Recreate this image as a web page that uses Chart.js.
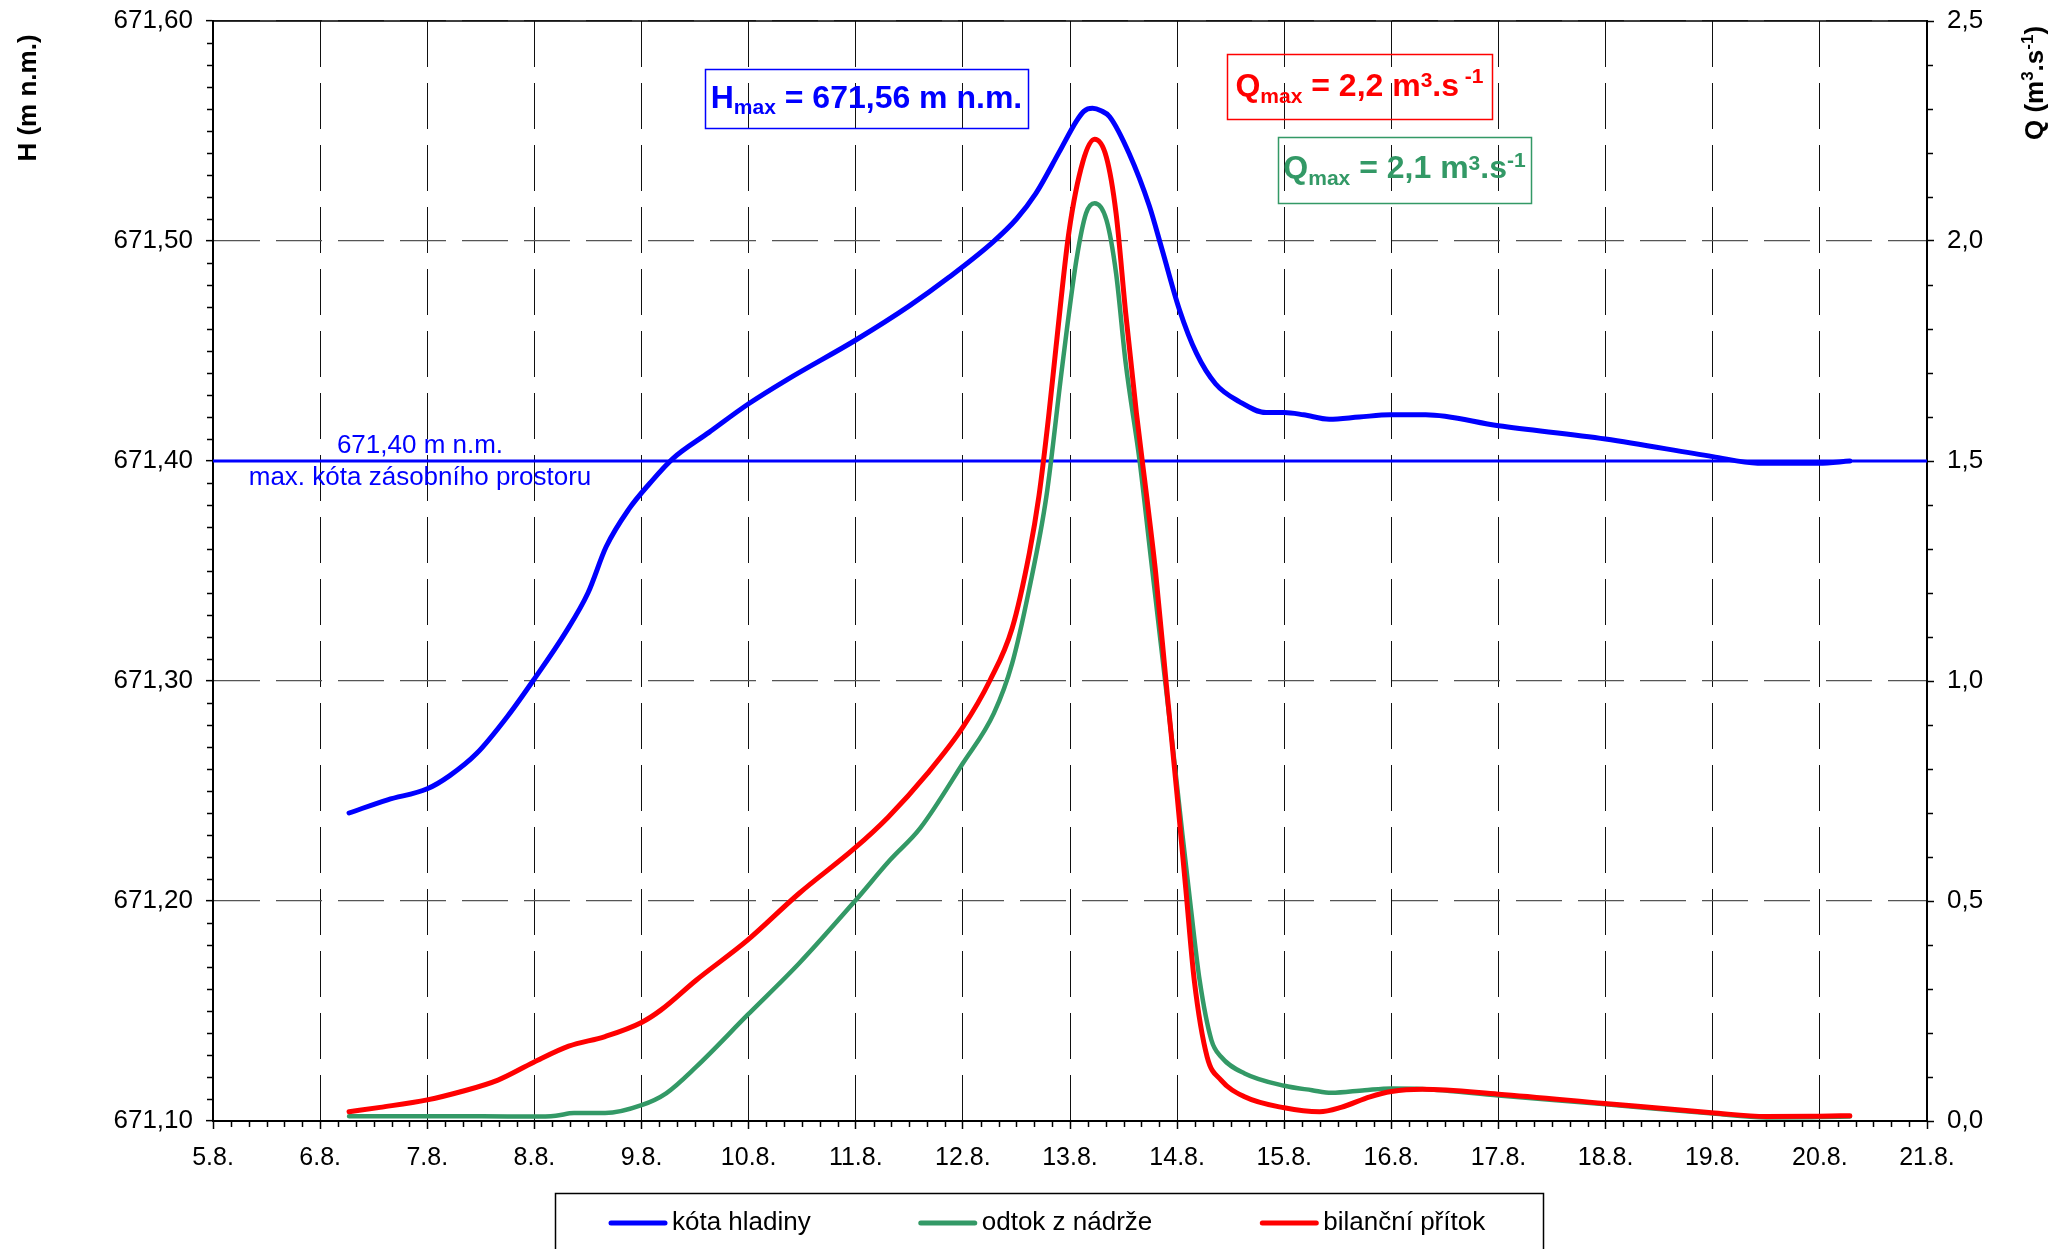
<!DOCTYPE html>
<html>
<head>
<meta charset="utf-8">
<title>Kóta hladiny a průtoky</title>
<script src="https://cdn.jsdelivr.net/npm/chart.js@4.4.0/dist/chart.umd.min.js"></script>
<style>
html, body { margin: 0; padding: 0; background: #fff; overflow: hidden; }
canvas { display: block; }
</style>
</head>
<body>
<canvas id="graf" width="2067" height="1249"></canvas>
<script>
// čas ve dnech srpna (6.27 = 6.8. ráno)
var levelDays = [6.27, 6.63, 7.0, 7.21, 7.46, 7.75, 8.0, 8.29, 8.5, 8.67, 8.88, 9.08, 9.29, 9.63, 10.0, 10.36,
	11.0, 11.5, 11.87, 12.28, 12.5, 12.68, 12.9, 13.06, 13.13, 13.21, 13.29, 13.37, 13.55, 13.74, 13.86, 14.02,
	14.18, 14.36, 14.58, 14.83, 15.0, 15.18, 15.42, 15.7, 15.99, 16.32, 17.0, 18.0, 19.0, 19.42, 19.7, 19.99, 20.28];
var levelValues = [671.240, 671.246, 671.251, 671.257, 671.267, 671.284, 671.301, 671.322, 671.340, 671.361,
	671.378, 671.390, 671.401, 671.413, 671.426, 671.437, 671.455, 671.4705, 671.4835, 671.4995, 671.510, 671.5215,
	671.5405, 671.5545, 671.5590, 671.5603, 671.5592, 671.5565, 671.540, 671.516, 671.496, 671.469, 671.449, 671.435,
	671.427, 671.422, 671.422, 671.421, 671.419, 671.420, 671.421, 671.421, 671.416, 671.410, 671.402, 671.399,
	671.399, 671.399, 671.400];

var outflowDays = [6.27, 7.0, 7.51, 7.99, 8.2, 8.37, 8.66, 9.0, 9.23, 9.51, 9.99, 10.47, 11.0, 11.32, 11.6, 12.0,
	12.29, 12.46, 12.62, 12.78, 12.93, 13.06, 13.15, 13.23, 13.34, 13.43, 13.52, 13.65, 13.75, 13.85, 13.95, 14.05,
	14.13, 14.21, 14.32, 14.41, 14.63, 15.0, 15.26, 15.44, 15.75, 16.0, 16.29, 17.0, 18.0, 19.0, 19.5, 20.0, 20.28];
var outflowValues = [0.011, 0.011, 0.011, 0.010, 0.012, 0.018, 0.018, 0.036, 0.063, 0.123, 0.241, 0.358, 0.502,
	0.593, 0.665, 0.813, 0.927, 1.040, 1.210, 1.420, 1.720, 1.957, 2.063, 2.086, 2.048, 1.927, 1.722, 1.500, 1.290,
	1.080, 0.870, 0.650, 0.480, 0.320, 0.184, 0.146, 0.108, 0.080, 0.070, 0.064, 0.070, 0.074, 0.073, 0.058, 0.038,
	0.017, 0.008, 0.009, 0.010];

var inflowDays = [6.27, 6.56, 7.0, 7.32, 7.66, 7.99, 8.32, 8.66, 9.0, 9.18, 9.51, 9.99, 10.47, 10.99, 11.3, 11.67,
	12.0, 12.25, 12.46, 12.62, 12.71, 12.8, 12.87, 12.99, 13.12, 13.23, 13.34, 13.43, 13.52, 13.62, 13.72, 13.8,
	13.9, 14.0, 14.08, 14.16, 14.28, 14.41, 14.63, 15.0, 15.33, 15.53, 15.8, 16.0, 16.29, 17.0, 17.99, 18.99, 19.5,
	19.99, 20.28];
var inflowValues = [0.021, 0.031, 0.048, 0.067, 0.093, 0.133, 0.170, 0.192, 0.224, 0.252, 0.320, 0.411, 0.517,
	0.620, 0.690, 0.790, 0.895, 1.000, 1.120, 1.290, 1.420, 1.600, 1.760, 2.020, 2.180, 2.231, 2.190, 2.063, 1.836,
	1.609, 1.411, 1.245, 0.990, 0.740, 0.530, 0.320, 0.146, 0.093, 0.055, 0.030, 0.021, 0.031, 0.055, 0.067, 0.072,
	0.061, 0.040, 0.019, 0.010, 0.011, 0.012];

var storageLevel = 671.40;
var dayMin = 5, dayMax = 21;
var monthSuffix = '.8.';

var font = "'Liberation Sans', Arial, sans-serif";

function toPoints(xs, ys) {
	return xs.map(function (x, i) { return { x: x, y: ys[i] }; });
}

function comma(v, d) {
	return v.toFixed(d).replace('.', ',');
}

// text s indexy: [text, velikost, posun]
function richWidth(c, parts, weight) {
	var w = 0;
	parts.forEach(function (p) {
		c.font = weight + ' ' + p[1] + 'px ' + font;
		w += c.measureText(p[0]).width;
	});
	return w;
}

function drawRich(c, parts, x, y, weight) {
	parts.forEach(function (p) {
		c.font = weight + ' ' + p[1] + 'px ' + font;
		c.fillText(p[0], x, y + (p[2] || 0));
		x += c.measureText(p[0]).width;
	});
}

function boxLabel(c, parts, color, x, y, w, h, baseline) {
	c.save();
	c.strokeStyle = color;
	c.lineWidth = 1.5;
	c.strokeRect(x + 0.5, y + 0.5, w, h);
	c.fillStyle = color;
	c.textBaseline = 'alphabetic';
	var tw = richWidth(c, parts, 'bold');
	drawRich(c, parts, x + (w - tw) / 2, baseline, 'bold');
	c.restore();
}

var maxLevel = Math.max.apply(null, levelValues);
var maxInflow = Math.max.apply(null, inflowValues);
var maxOutflow = Math.max.apply(null, outflowValues);

// vedlejší dílky os, rámeček nahoře
var minorTicks = {
	id: 'minorTicks',
	afterDraw: function (chart) {
		var c = chart.ctx, a = chart.chartArea, s = chart.scales;
		var i, p;
		c.save();
		c.strokeStyle = '#000';
		c.lineWidth = 1.5;
		c.beginPath();
		for (i = 0; i <= (dayMax - dayMin) * 6; i++) {
			if (i % 6 === 0) continue;
			p = Math.round(s.x.getPixelForValue(dayMin + i / 6)) + 0.5;
			c.moveTo(p, a.bottom);
			c.lineTo(p, a.bottom + 6);
		}
		for (i = 0; i <= 50; i++) {
			if (i % 10 === 0) continue;
			p = Math.round(s.yH.getPixelForValue(671.1 + i * 0.01)) + 0.5;
			c.moveTo(a.left - 6, p);
			c.lineTo(a.left, p);
		}
		for (i = 0; i <= 25; i++) {
			if (i % 5 === 0) continue;
			p = Math.round(s.yQ.getPixelForValue(i * 0.1)) + 0.5;
			c.moveTo(a.right, p);
			c.lineTo(a.right + 6, p);
		}
		c.stroke();
		c.beginPath();
		c.moveTo(a.left, a.top);
		c.lineTo(a.right, a.top);
		c.stroke();
		c.restore();
	}
};

// popisky, názvy os a legenda
var labels = {
	id: 'labels',
	afterDraw: function (chart) {
		var c = chart.ctx, a = chart.chartArea, s = chart.scales;
		var yLine = s.yH.getPixelForValue(storageLevel);

		c.save();
		c.fillStyle = '#0000ff';
		c.font = '26px ' + font;
		c.textAlign = 'center';
		c.textBaseline = 'alphabetic';
		c.fillText(comma(storageLevel, 2) + ' m n.m.', a.left + 207, yLine - 8);
		c.fillText('max. kóta zásobního prostoru', a.left + 207, yLine + 24);
		c.restore();

		boxLabel(c, [['H', 32], ['max', 21, 6], [' = ' + comma(maxLevel, 2) + ' m n.m.', 32]],
			'#0000ff', 705, 69, 323, 59, 108);
		boxLabel(c, [['Q', 32], ['max', 21, 7], [' = ' + comma(maxInflow, 1) + ' m', 32], ['3', 21, -9], ['.s', 32], [' -1', 21, -13]],
			'#ff0000', 1227, 54, 265, 65, 96);
		boxLabel(c, [['Q', 32], ['max', 21, 7], [' = ' + comma(maxOutflow, 1) + ' m', 32], ['3', 21, -8], ['.s', 32], ['-1', 21, -11]],
			'#339966', 1278, 137, 253, 66, 178);

		// názvy os
		c.save();
		c.fillStyle = '#000';
		c.translate(27, 98);
		c.rotate(-Math.PI / 2);
		var tParts = [['H (m n.m.)', 26]];
		drawRich(c, tParts, -richWidth(c, tParts, 'bold') / 2, 9, 'bold');
		c.restore();

		c.save();
		c.fillStyle = '#000';
		c.translate(2034, 83);
		c.rotate(-Math.PI / 2);
		var qParts = [['Q (m', 26], ['3', 17, -10], ['.s', 26], ['-1', 17, -10], [')', 26]];
		drawRich(c, qParts, -richWidth(c, qParts, 'bold') / 2, 9, 'bold');
		c.restore();

		// legenda
		c.save();
		c.strokeStyle = '#000';
		c.lineWidth = 1.5;
		c.strokeRect(555.5, 1193.5, 988, 80);
		c.font = '26px ' + font;
		c.textBaseline = 'middle';
		var x = 611, y = 1223;
		chart.data.datasets.forEach(function (ds) {
			if (!ds.inLegend) return;
			c.strokeStyle = ds.borderColor;
			c.lineWidth = 5;
			c.lineCap = 'round';
			c.beginPath();
			c.moveTo(x, y);
			c.lineTo(x + 54, y);
			c.stroke();
			c.fillStyle = '#000';
			c.fillText(ds.label, x + 61, y);
			x += 61 + c.measureText(ds.label).width + 110;
		});
		c.restore();
	}
};

function fixWidth(w) {
	return function (s) {
		s.width = w;
		s.paddingTop = 0;
		s.paddingBottom = 0;
	};
}

var ctx = document.getElementById('graf');

var chart = new Chart(ctx, {
	type: 'line',
	data: {
		datasets: [
			{ label: 'kóta hladiny', inLegend: true, data: toPoints(levelDays, levelValues), yAxisID: 'yH',
				borderColor: '#0000ff', borderWidth: 5, order: 0 },
			{ label: 'odtok z nádrže', inLegend: true, data: toPoints(outflowDays, outflowValues), yAxisID: 'yQ',
				borderColor: '#339966', borderWidth: 4.5, order: 2 },
			{ label: 'bilanční přítok', inLegend: true, data: toPoints(inflowDays, inflowValues), yAxisID: 'yQ',
				borderColor: '#ff0000', borderWidth: 5, order: 1 },
			{ label: 'zásobní prostor', inLegend: false,
				data: [{ x: dayMin, y: storageLevel }, { x: dayMax, y: storageLevel }], yAxisID: 'yH',
				borderColor: '#0000ff', borderWidth: 3, borderCapStyle: 'butt', order: 3 }
		]
	},
	options: {
		responsive: false,
		animation: false,
		layout: { padding: { top: 21, bottom: 56, left: 0, right: 0 } },
		elements: {
			point: { radius: 0 },
			line: { cubicInterpolationMode: 'monotone', borderCapStyle: 'round', borderJoinStyle: 'round', fill: false }
		},
		plugins: {
			legend: { display: false },
			tooltip: { enabled: false }
		},
		scales: {
			x: {
				type: 'linear',
				position: 'bottom',
				min: dayMin,
				max: dayMax,
				afterFit: function (s) { s.height = 72; },
				ticks: {
					stepSize: 1, autoSkip: false, maxRotation: 0, padding: 14, color: '#000',
					font: { family: font, size: 25 },
					callback: function (v) { return v + monthSuffix; }
				},
				grid: { color: '#111', lineWidth: 1, tickLength: 8, tickColor: '#000', tickWidth: 1.5 },
				border: { display: true, color: '#000', width: 2, dash: [46, 16] }
			},
			yH: {
				type: 'linear',
				position: 'left',
				min: 671.1,
				max: 671.6,
				afterFit: fixWidth(213),
				ticks: {
					stepSize: 0.1, padding: 13, color: '#000',
					font: { family: font, size: 26 },
					callback: function (v) { return comma(v, 2); }
				},
				grid: { color: '#555', lineWidth: 1.3, tickLength: 7, tickColor: '#000', tickWidth: 1.5 },
				border: { display: true, color: '#000', width: 2, dash: [46, 16] }
			},
			yQ: {
				type: 'linear',
				position: 'right',
				min: 0,
				max: 2.5,
				afterFit: fixWidth(140),
				ticks: {
					stepSize: 0.5, padding: 13, color: '#000',
					font: { family: font, size: 26 },
					callback: function (v) { return comma(v, 1); }
				},
				grid: { drawOnChartArea: false, tickLength: 7, tickColor: '#000', tickWidth: 1.5 },
				border: { display: true, color: '#000', width: 2 }
			}
		}
	},
	plugins: [minorTicks, labels]
});
</script>
</body>
</html>
